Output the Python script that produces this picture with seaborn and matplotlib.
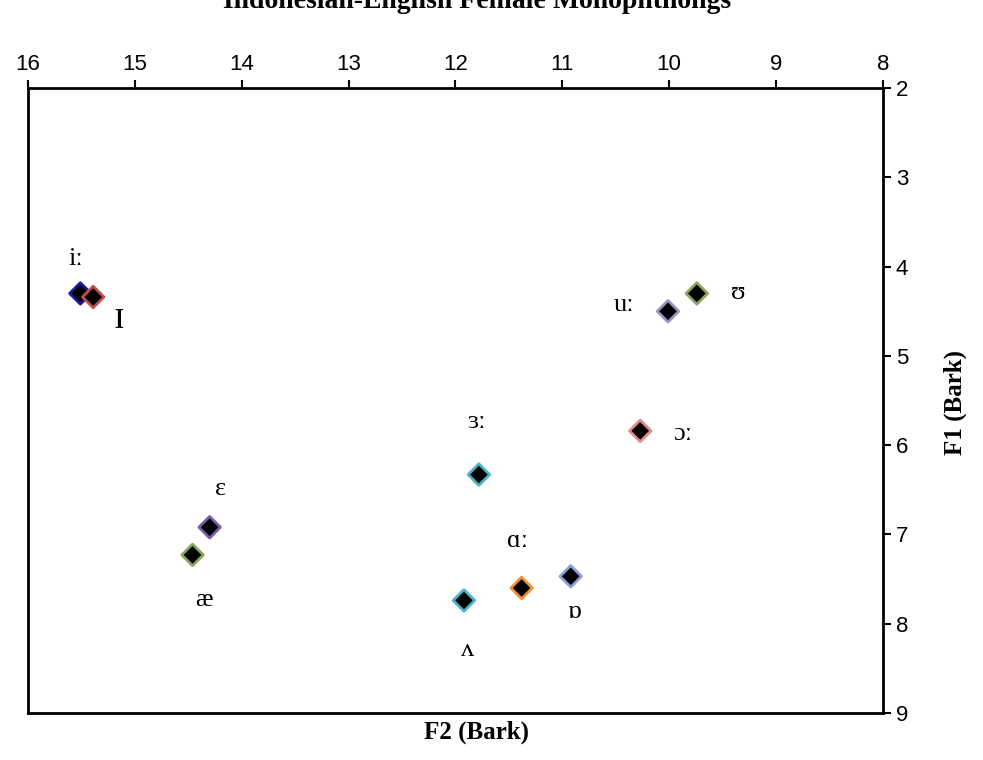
import matplotlib
matplotlib.use("Agg")
import matplotlib.pyplot as plt
import seaborn as sns
import pandas as pd

vowels = ["iː", "ɪ", "uː", "ʊ", "ɔː", "ɜː", "ɛ", "æ", "ɑː", "ɒ", "ʌ"]
f2 = [15.51, 15.39, 10.01, 9.74, 10.27, 11.78, 14.30, 14.46, 11.38, 10.92, 11.92]
f1 = [4.30, 4.34, 4.50, 4.30, 5.84, 6.33, 6.92, 7.23, 7.60, 7.47, 7.74]
edge_colors = ["#1a1a9a", "#c0504d", "#9d8fc8", "#8aa55a", "#e08a8a", "#4bb3c8",
               "#7a5aa8", "#8aa55a", "#f0903a", "#8aa0d8", "#4bb3c8"]
label_x = [15.55, 15.15, 10.42, 9.35, 9.87, 11.80, 14.20, 14.35, 11.42, 10.89, 11.89]
label_y = [3.91, 4.58, 4.43, 4.30, 5.88, 5.74, 6.49, 7.74, 7.07, 7.87, 8.30]
label_sizes = [19, 28, 19, 19, 19, 19, 19, 19, 19, 19, 19]

df = pd.DataFrame({"vowel": vowels, "F2": f2, "F1": f1})

sns.set_style("white")
plt.rcParams["font.family"] = ["Liberation Serif", "DejaVu Serif"]
plt.rcParams["text.color"] = "black"

fig = plt.figure(figsize=(9.83, 7.6), dpi=100)
ax = fig.add_axes([0.0285, 0.062, 0.8695, 0.822])
sns.scatterplot(data=df, x="F2", y="F1", hue="vowel", palette=edge_colors, marker="D",
                s=120, legend=False, ax=ax, zorder=3)
for coll in ax.collections:
    ec = coll.get_facecolors()
    coll.set_edgecolors(ec)
    coll.set_facecolor("black")
    coll.set_linewidth(2)

for v, lx, ly, fs in zip(vowels, label_x, label_y, label_sizes):
    ax.text(lx, ly, v, fontsize=fs, ha="center", va="center", color="black")

ax.set_xlim(16, 8)
ax.set_ylim(9, 2)
ax.xaxis.tick_top()
ax.yaxis.tick_right()
ax.set_xticks(range(8, 17))
ax.set_yticks(range(2, 10))
ax.tick_params(axis="both", which="both", direction="out", length=6, width=1.5,
               labelsize=16, labelcolor="black", color="black",
               top=True, right=True, bottom=False, left=False)
for lab in ax.get_xticklabels() + ax.get_yticklabels():
    lab.set_fontfamily("Liberation Sans")
for s in ax.spines.values():
    s.set_visible(True)
    s.set_linewidth(2)
    s.set_color("black")
ax.set_xlabel("")
ax.set_ylabel("")
fig.text(0.485, 0.036, "F2 (Bark)", fontsize=18, fontweight="bold", ha="center", va="center")
fig.text(0.972, 0.47, "F1 (Bark)", fontsize=18, fontweight="bold", ha="center", va="center", rotation=90)
fig.text(0.485, 0.998, "Indonesian-English Female Monophthongs", fontsize=20, fontweight="bold",
         ha="center", va="center")
fig.savefig("out.png", dpi=100)
